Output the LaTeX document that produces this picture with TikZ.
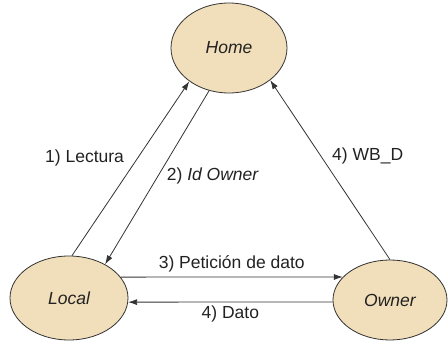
\documentclass[tikz,border=0pt]{standalone}
\usepackage{fontspec}
\setmainfont{Liberation Sans}
\usepackage{xcolor}
\usetikzlibrary{shapes.geometric,arrows.meta}
\definecolor{nodofondo}{RGB}{241,222,186}
\definecolor{borde}{RGB}{51,51,51}
\definecolor{texto}{RGB}{34,34,34}

\begin{document}
\begin{tikzpicture}[x=1pt, y=-1pt, font=\fontsize{17.5}{21}\selectfont, text=texto,
  estado/.style={ellipse, draw=borde, line width=0.8pt, fill=nodofondo, inner sep=0pt,
    font=\fontsize{17.5}{21}\selectfont\itshape},
  flecha/.style={draw=borde, line width=0.8pt, -{Latex[length=9pt, width=6pt]}}]
  \useasboundingbox (0,0) rectangle (448,342);
  % estados
  \node[estado, minimum width=116pt, minimum height=90pt] (home) at (229,48) {Home};
  \node[estado, minimum width=118pt, minimum height=84pt] (local) at (69,298) {Local};
  \node[estado, minimum width=114pt, minimum height=80pt] (owner) at (390,300) {Owner};
  % mensajes
  \draw[flecha] (local.86) -- node[pos=0.56, left=10pt] {1) Lectura} (home.220);
  \draw[flecha] (home.245) -- node[pos=0.49, right=5pt] {2) \textit{Id Owner}} (local.43);
  \draw[flecha] (local.22) -- node[above=1pt] {3) Petición de dato} (owner.154);
  \draw[flecha] (owner.182) -- node[below] {4) Dato} (local.356);
  \draw[flecha] (owner.90) -- node[pos=0.58, right=8pt] {4) WB\_D} (home.322);
\end{tikzpicture}
\end{document}
